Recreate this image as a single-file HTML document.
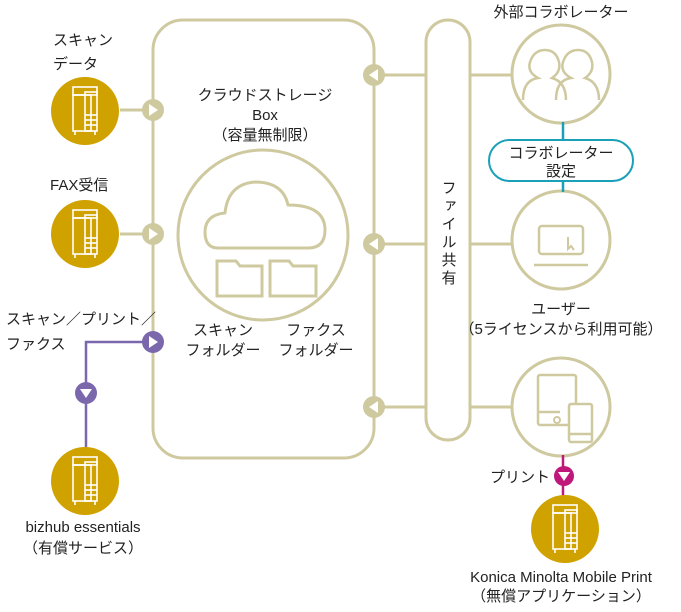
<!DOCTYPE html>
<html><head><meta charset="utf-8"><style>
body{margin:0;background:#fff;}
svg text{font-family:"Liberation Sans","Noto Sans CJK JP",sans-serif;font-size:15px;fill:#222;}
</style></head><body>
<svg width="681" height="607" viewBox="0 0 681 607" xmlns="http://www.w3.org/2000/svg">
<defs>
<g id="pr" fill="none" stroke="#fff" stroke-width="1.6">
<rect x="-12" y="-24" width="24" height="8"/>
<rect x="-12" y="-16" width="18" height="36"/>
<rect x="0" y="-19" width="12" height="39"/>
<line x1="0" y1="4" x2="12" y2="4"/><line x1="0" y1="9" x2="12" y2="9"/><line x1="0" y1="14" x2="12" y2="14"/>
<line x1="-10" y1="20" x2="-10" y2="24"/><line x1="10" y1="20" x2="10" y2="24"/>
</g>
</defs>
<g stroke="#cfc9a0" stroke-width="3" fill="none">
<rect x="153" y="20" width="221" height="438" rx="30"/>
<rect x="426" y="20" width="44" height="420" rx="22"/>
<circle cx="263" cy="235" r="85"/>
<path d="M218 248 Q205 248 205 232 Q205 215 225 213 Q228 184 255 182 Q283 182 288 205 Q325 205 325 230 Q325 248 308 248 Z" stroke-linejoin="round"/>
<path d="M217 296 V261 H236 L240 266 H262 V296 Z"/>
<path d="M270 296 V261 H289 L293 266 H316 V296 Z"/>
<circle cx="561" cy="74" r="49"/><circle cx="561" cy="240" r="49"/><circle cx="561" cy="407" r="49"/>
<line x1="120" y1="110" x2="153" y2="110"/><line x1="120" y1="234" x2="153" y2="234"/>
<line x1="374" y1="75" x2="426" y2="75"/><line x1="374" y1="244" x2="426" y2="244"/><line x1="374" y1="407" x2="426" y2="407"/>
<line x1="470" y1="75" x2="512" y2="75"/><line x1="470" y1="244" x2="512" y2="244"/><line x1="470" y1="407" x2="512" y2="407"/>
<path d="M523 100 Q523 80 538 78 Q527 72 530 62 Q534 50 545 50 Q556 50 559 62 Q561 72 552 78 Q566 82 566 100 M556 100 Q556 80 571 78 Q560 72 563 62 Q567 50 578 50 Q589 50 592 62 Q594 72 585 78 Q599 82 599 100" stroke-width="2.5"/>
<rect x="539" y="226" width="44" height="28" rx="3" stroke-width="2.5"/>
<line x1="534" y1="265" x2="588" y2="265" stroke-width="2.5"/>
<path d="M568 237 V249 L571 246 L574 250" stroke-width="2"/>
<rect x="538" y="375" width="38" height="50" rx="2" stroke-width="2.5"/>
<line x1="538" y1="412" x2="560" y2="412" stroke-width="2.5"/>
<circle cx="557" cy="420" r="3" stroke-width="2"/>
<rect x="569" y="404" width="23" height="38" rx="2" stroke-width="2.5" fill="#fff"/>
<line x1="569" y1="434" x2="592" y2="434" stroke-width="2.5"/>
</g>
<g fill="#cfc9a0"><circle cx="153" cy="110" r="11"/><circle cx="153" cy="234" r="11"/>
<circle cx="374" cy="75" r="11"/><circle cx="374" cy="244" r="11"/><circle cx="374" cy="407" r="11"/></g>
<g fill="#fff"><path d="M149 104 L158 110 L149 116Z"/><path d="M149 228 L158 234 L149 240Z"/>
<path d="M378 69 L369 75 L378 81Z"/><path d="M378 238 L369 244 L378 250Z"/><path d="M378 401 L369 407 L378 413Z"/></g>
<g stroke="#7b68ac" stroke-width="2.5" fill="none"><polyline points="153,342 86,342 86,460"/></g>
<circle cx="153" cy="342" r="11" fill="#7b68ac"/><path d="M149 336 L158 342 L149 348Z" fill="#fff"/>
<circle cx="86" cy="393" r="11" fill="#7b68ac"/><path d="M80 389 L92 389 L86 398Z" fill="#fff"/>
<line x1="563" y1="455" x2="563" y2="500" stroke="#c0187a" stroke-width="2.5"/>
<circle cx="564" cy="476" r="10" fill="#c0187a"/><path d="M558 472 L570 472 L564 481Z" fill="#fff"/>
<line x1="563" y1="122" x2="563" y2="192" stroke="#1aa0b8" stroke-width="2.5"/>
<rect x="489" y="140" width="144" height="41" rx="20.5" fill="#fff" stroke="#1aa0b8" stroke-width="2"/>
<g fill="#d0a200"><circle cx="85" cy="111" r="34"/><circle cx="85" cy="234" r="34"/><circle cx="85" cy="481" r="34"/><circle cx="565" cy="529" r="34"/></g>
<use href="#pr" x="85" y="111"/><use href="#pr" x="85" y="234"/><use href="#pr" x="85" y="481"/><use href="#pr" x="565" y="529"/>
<text x="53" y="45">スキャン</text><text x="53" y="69">データ</text>
<text x="50" y="190">FAX受信</text>
<text x="6" y="324">スキャン／プリント／</text><text x="6" y="349">ファクス</text>
<text x="83" y="532" text-anchor="middle">bizhub essentials</text><text x="83" y="553" text-anchor="middle">（有償サービス）</text>
<text x="265" y="100" text-anchor="middle">クラウドストレージ</text><text x="265" y="120" text-anchor="middle">Box</text><text x="265" y="140" text-anchor="middle">（容量無制限）</text>
<text x="223" y="335" text-anchor="middle">スキャン</text><text x="223" y="355" text-anchor="middle">フォルダー</text>
<text x="316" y="335" text-anchor="middle">ファクス</text><text x="316" y="355" text-anchor="middle">フォルダー</text>
<text x="448" y="180" style="writing-mode:vertical-rl;letter-spacing:3px">ファイル共有</text>
<text x="561" y="17" text-anchor="middle">外部コラボレーター</text>
<text x="561" y="158" text-anchor="middle">コラボレーター</text><text x="561" y="176" text-anchor="middle">設定</text>
<text x="561" y="314" text-anchor="middle">ユーザー</text><text x="561" y="334" text-anchor="middle">（5ライセンスから利用可能）</text>
<text x="490" y="482">プリント</text>
<text x="561" y="582" text-anchor="middle">Konica Minolta Mobile Print</text><text x="561" y="601" text-anchor="middle">（無償アプリケーション）</text>
</svg>
</body></html>
